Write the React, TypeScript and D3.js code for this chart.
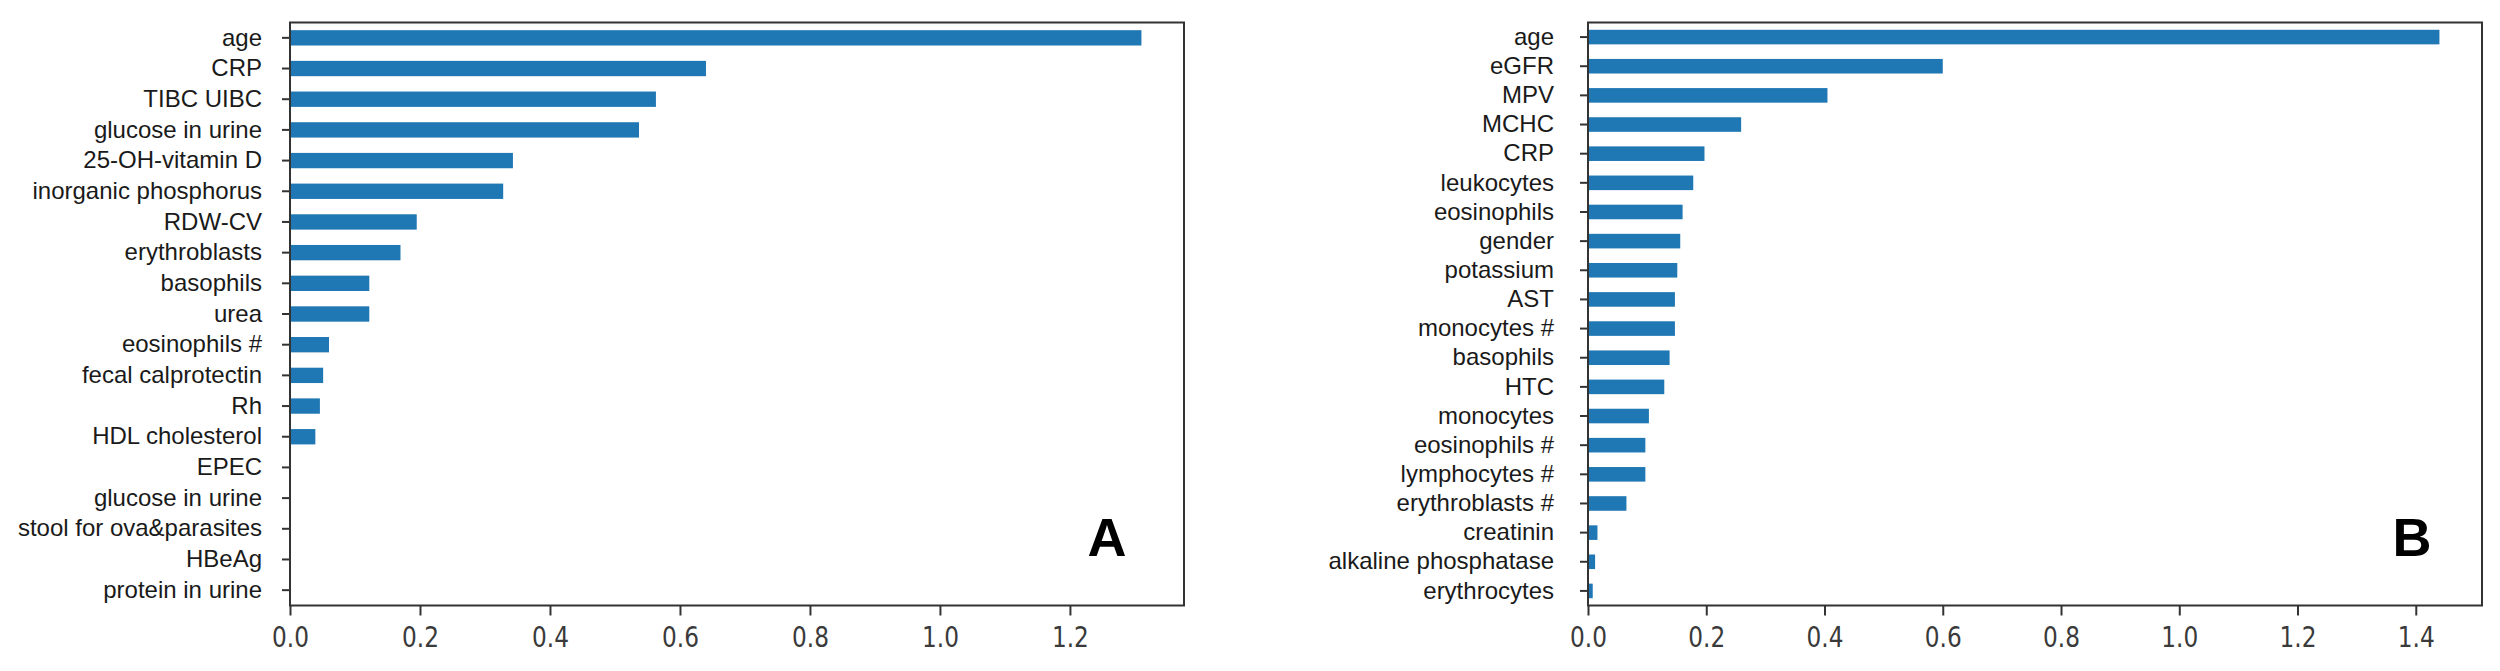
import React, { useEffect, useRef } from 'react';
import * as d3 from 'd3';

// feature names, top to bottom
const labelsA = [
  'age', 'CRP', 'TIBC UIBC', 'glucose in urine', '25-OH-vitamin D', 'inorganic phosphorus',
  'RDW-CV', 'erythroblasts', 'basophils', 'urea', 'eosinophils #', 'fecal calprotectin',
  'Rh', 'HDL cholesterol', 'EPEC', 'glucose in urine', 'stool for ova&parasites', 'HBeAg',
  'protein in urine',
];
const valuesA = [
  1.31, 0.64, 0.563, 0.537, 0.343, 0.328, 0.195, 0.17, 0.122, 0.122, 0.06, 0.051,
  0.046, 0.039, 0, 0, 0, 0, 0,
];

const labelsB = [
  'age', 'eGFR', 'MPV', 'MCHC', 'CRP', 'leukocytes', 'eosinophils', 'gender', 'potassium',
  'AST', 'monocytes #', 'basophils', 'HTC', 'monocytes', 'eosinophils #', 'lymphocytes #',
  'erythroblasts #', 'creatinin', 'alkaline phosphatase', 'erythrocytes',
];
const valuesB = [
  1.44, 0.6, 0.405, 0.259, 0.197, 0.178, 0.16, 0.156, 0.151, 0.147, 0.147, 0.138, 0.129,
  0.103, 0.097, 0.097, 0.065, 0.016, 0.012, 0.008,
];

const xTicksA = [0, 0.2, 0.4, 0.6, 0.8, 1.0, 1.2];
const xTicksB = [0, 0.2, 0.4, 0.6, 0.8, 1.0, 1.2, 1.4];

const Panel = ({ labels, values, ticks, left, right, pad, letter, letterX }) => {
  const ref = useRef(null);

  useEffect(() => {
    const g = d3.select(ref.current);
    g.selectAll('*').remove();

    const top = 22.5, bottom = 605.5;

    const x = d3.scaleLinear()
      .domain([0, d3.max(values) * 1.05])
      .range([left, right]);

    const y = d3.scaleBand()
      .domain(labels.map((_, i) => i))
      .range([top, bottom])
      .paddingInner(0.5)
      .paddingOuter(0.25);

    g.selectAll('.bar')
      .data(values)
      .enter()
      .append('rect')
      .attr('x', x(0))
      .attr('y', (_, i) => y(i))
      .attr('width', d => x(d) - x(0))
      .attr('height', y.bandwidth())
      .attr('fill', '#1f77b4');

    // y axis with category names
    const ya = g.append('g')
      .attr('transform', `translate(${left},0)`)
      .call(d3.axisLeft(y).tickSize(8).tickPadding(pad).tickFormat(i => labels[i]));
    ya.select('.domain').remove();
    ya.selectAll('line').attr('stroke', '#333').attr('stroke-width', 2);
    ya.selectAll('text')
      .attr('fill', '#1a1a1a')
      .style('font-family', '"Liberation Sans", Arial, sans-serif')
      .style('font-size', '24px');

    // x axis
    const xa = g.append('g')
      .attr('transform', `translate(0,${bottom})`)
      .call(d3.axisBottom(x).tickValues(ticks).tickSize(10).tickPadding(11).tickFormat(d3.format('.1f')));
    xa.select('.domain').remove();
    xa.selectAll('line').attr('stroke', '#333').attr('stroke-width', 2);
    xa.selectAll('text')
      .attr('fill', '#3a3a3a')
      .attr('transform', 'scale(0.8,1)')
      .style('font-family', '"DejaVu Sans", sans-serif')
      .style('font-size', '29px');

    // frame
    g.append('rect')
      .attr('x', left)
      .attr('y', top)
      .attr('width', right - left)
      .attr('height', bottom - top)
      .attr('fill', 'none')
      .attr('stroke', '#333')
      .attr('stroke-width', 2);

    g.append('text')
      .attr('x', letterX)
      .attr('y', 556)
      .attr('text-anchor', 'middle')
      .style('font-family', '"Liberation Sans", Arial, sans-serif')
      .style('font-weight', 'bold')
      .style('font-size', '54px')
      .text(letter);
  }, [labels, values, ticks, left, right, pad, letter, letterX]);

  return <g ref={ref} />;
};

export default function App() {
  return (
    <svg width={2500} height={671} style={{ position: 'absolute', left: 0, top: 0, background: '#fff' }}>
      <rect width={2500} height={671} fill="#fff" />
      <Panel labels={labelsA} values={valuesA} ticks={xTicksA} left={290} right={1184} pad={20} letter="A" letterX={1107} />
      <Panel labels={labelsB} values={valuesB} ticks={xTicksB} left={1588} right={2482} pad={26} letter="B" letterX={2412} />
    </svg>
  );
}
